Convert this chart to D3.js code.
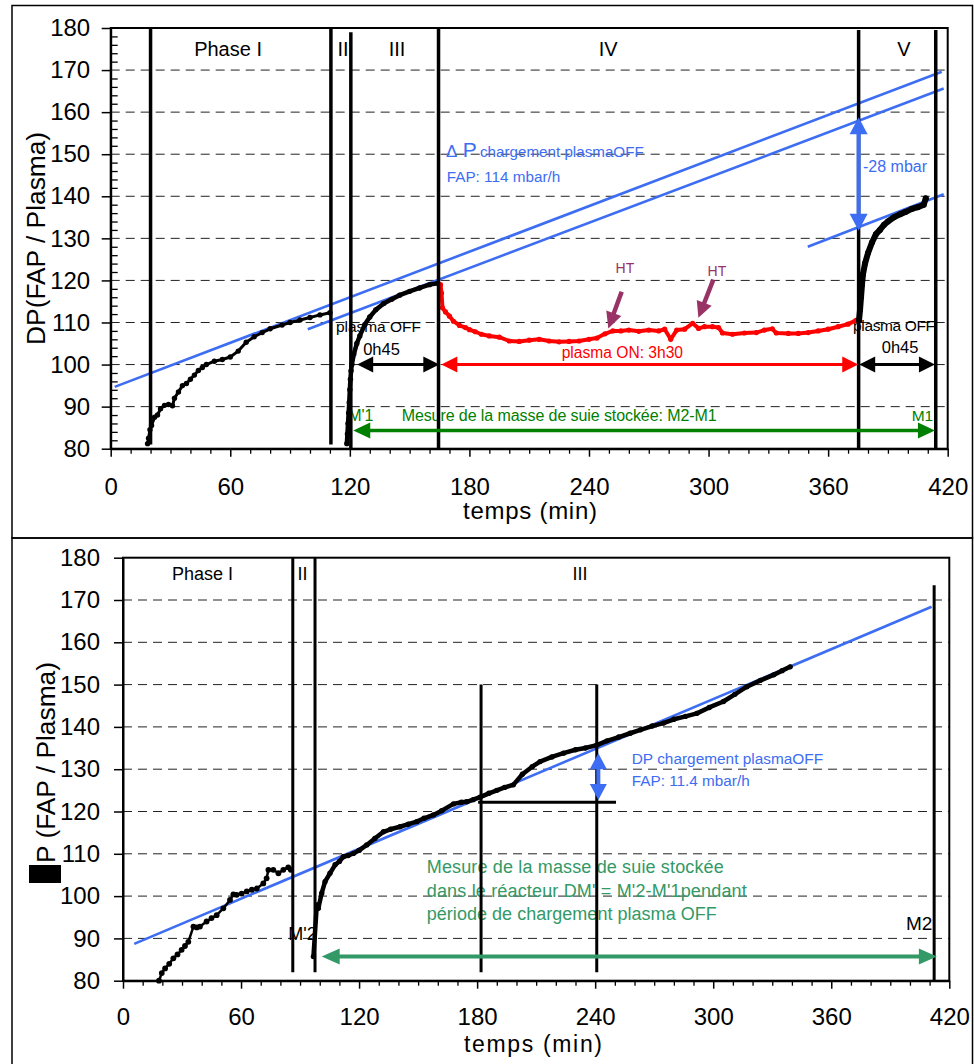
<!DOCTYPE html>
<html>
<head>
<meta charset="utf-8">
<script src="https://cdn.jsdelivr.net/npm/d3@7"></script>
<style>
  body { margin: 0; background: #fff; }
  text { font-family: "Liberation Sans", Arial, sans-serif; }
</style>
</head>
<body>
<svg id="chart" width="974" height="1064"></svg>
<script>
// ---------- shared axis settings ----------
const xTicks = [0, 60, 120, 180, 240, 300, 360, 420];
const yTicks = [80, 90, 100, 110, 120, 130, 140, 150, 160, 170, 180];
const gridValues = [90, 100, 110, 120, 130, 140, 150, 160, 170];

// ---------- upper chart: plasma cycle ----------
const topPhaseNames = ["Phase I", "II", "III", "IV", "V"];
const topPhaseLabelT = [58.9, 116.6, 143.7, 249.6, 398];

// phase boundaries (vertical point series)
const topBoundT  = [20, 110.5, 120.5, 164.5, 375.3, 414];
const topBoundLo = [81, 81, 80, 80, 80, 80];
const topBoundHi = [179.8, 179.8, 179, 179.8, 179.5, 179.5];

// phase I loading (plasma off)
const topLoadT = [18.5, 19, 19.7, 20.5, 22, 23.5, 25, 27, 29, 31, 32, 34, 36, 38, 40, 42, 44, 46, 48, 52, 56, 60, 64, 68, 72, 76, 80, 86, 90, 95, 100, 105, 110];
const topLoadV = [81.2, 82.5, 84.5, 85.5, 87.5, 88, 89.5, 90.3, 90.5, 90.2, 92, 93.5, 95, 95.5, 96.5, 97.5, 98.6, 99.3, 100, 100.8, 101.2, 101.8, 103.2, 105.3, 106.6, 107.6, 108.5, 109.4, 110, 110.6, 111.2, 111.8, 112.3];

// phase III (plasma off, 0h45)
const topOff1T = [118.5, 118.8, 119.1, 119.4, 119.7, 120, 120.3, 120.6, 121, 122, 123.5, 125, 127.5, 130, 133, 137, 141, 145, 150, 155, 160, 164];
const topOff1V = [81.2, 83.5, 86, 88.5, 91, 94, 96.5, 98.5, 100, 102.5, 105, 106.8, 109.5, 111.3, 113, 114.5, 115.5, 116.5, 117.4, 118.2, 119, 119.3];

// phase IV (plasma on, 3h30)
const topOnT = [165.5, 166, 166.5, 168, 170, 172, 175, 178, 180, 183, 186, 190, 195, 200, 205, 210, 215, 220, 225, 230, 235, 240, 244, 248, 252, 256, 260, 265, 270, 275, 278, 281, 284, 288, 292, 295, 298, 302, 305, 307, 312, 318, 324, 328, 332, 334, 340, 345, 350, 355, 360, 365, 370, 374];
const topOnV = [119, 117, 113.5, 112.5, 111.5, 110.3, 109.3, 108.8, 108.3, 107.8, 107.2, 106.8, 106.5, 105.6, 105.5, 105.8, 106, 105.6, 105.4, 105.5, 105.6, 106, 106.3, 107.3, 108, 108, 108.2, 107.9, 108.2, 108, 108.4, 106, 108.2, 108.4, 109.8, 108.6, 109, 109, 108.8, 107.5, 107.2, 107.5, 107.6, 108.2, 108.5, 107.5, 107.4, 107.4, 107.6, 108, 108.4, 109, 109.6, 110.5];

// phase V (plasma off, 0h45)
const topOff2T = [375.5, 376, 376.5, 377, 377.5, 378.5, 380, 382, 384, 386, 388, 390, 393, 396, 399, 402, 405, 408, 409];
const topOff2V = [110.5, 113, 116, 119, 121.5, 124, 126.5, 129, 131, 132, 133.2, 134, 135, 135.7, 136.3, 137, 137.4, 138, 139.5];

// linear loading trends (plasma off), end points
const topTrend1T = [2, 417];
const topTrend1V = [94.7, 169.6];
const topTrend2T = [98.9, 418];
const topTrend2V = [108.4, 165.6];
const topTrend3T = [349.8, 418];
const topTrend3V = [128, 140.5];

// ---------- lower chart: reference loading ----------
const botPhaseNames = ["Phase I", "II", "III"];
const botPhaseLabelT = [40.4, 91.2, 232.3];

const botBoundT  = [86.3, 97.6, 182, 240.8, 412.3];
const botBoundLo = [82, 82, 82, 82, 80];
const botBoundHi = [180, 180, 150, 150, 173.5];

const botLoadT = [18.3, 19.7, 21.4, 23.5, 25.6, 27.7, 29.8, 31.5, 33.2, 35.8, 37.5, 39.1, 42.5, 45, 47.6, 51, 54.4, 56.1, 57.8, 60.3, 62.9, 65.5, 68, 71.3, 73, 73.9, 76.4, 79, 81.5, 84, 85.3];
const botLoadV = [80, 81.8, 82.9, 84, 85.3, 86.2, 87.3, 88.2, 89.2, 92.8, 92.6, 92.8, 94, 94.8, 95.5, 97.1, 99.1, 100.4, 100.3, 100.6, 101.1, 101.5, 101.8, 103, 104.2, 106.2, 106.2, 105.4, 106.2, 106.8, 106.2];

const botOffT = [96.8, 98.5, 99.3, 101, 102.7, 105.2, 107.8, 110, 112, 114.5, 117.1, 120, 123.9, 128, 132.4, 136, 140.8, 145, 149.3, 153, 157.8, 162, 168, 172, 174.7, 178, 181.5, 186, 190, 194, 198.4, 203, 208, 212, 218, 223.9, 230, 235, 240.8, 246, 252, 257.8, 263, 269, 274.7, 280, 286, 291.7, 298, 305.2, 311, 317.1, 324, 330.7, 335, 339.1];
const botOffV = [85.7, 97.9, 97.1, 100.7, 103.4, 105.4, 107.4, 108.2, 109.3, 109.6, 110.1, 110.8, 112.1, 113.6, 115.2, 115.8, 116.4, 117, 117.6, 118.4, 119.2, 120.2, 121.8, 122.2, 122.3, 122.8, 123.4, 124.3, 125, 125.7, 126.3, 128.8, 130.6, 131.8, 132.9, 133.8, 134.6, 135, 135.7, 136.7, 137.6, 138.5, 139.3, 140.2, 140.9, 141.8, 142.5, 143.2, 144.6, 146, 147.7, 149.5, 151, 152.3, 153.3, 154.2];

const botTrendT = [5.7, 411];
const botTrendV = [88.7, 168.4];

// reference level for the 1 h increment
const botRefT = [180.5, 250.6];
const botRefV = [122.2, 122.2];

// ---------- colours ----------
const BLUE = "#3d6df2", RED = "#ff0000", GREEN1 = "#008000", GREEN2 = "#339966", PURPLE = "#993366";

const svg = d3.select("#chart");

// outer frames
svg.append("rect").attr("x", 12).attr("y", 5.5).attr("width", 960.5).attr("height", 532.5)
  .attr("fill", "none").attr("stroke", "#000").attr("stroke-width", 1.5);
svg.append("rect").attr("x", 12).attr("y", 538).attr("width", 960.5).attr("height", 540)
  .attr("fill", "none").attr("stroke", "#000").attr("stroke-width", 1.5);

function makePanel(xr, yr, minorY, labelPad, xPad) {
  const g = svg.append("g");
  const x = d3.scaleLinear().domain([0, 420]).range(xr);
  const y = d3.scaleLinear().domain([80, 180]).range(yr);

  g.append("g").selectAll("line").data(gridValues).join("line")
    .attr("x1", x(0)).attr("x2", x(420))
    .attr("y1", d => y(d)).attr("y2", d => y(d))
    .attr("stroke", "#222").attr("stroke-width", 1).attr("stroke-dasharray", "9,6");

  // minor x ticks every 10 min
  g.append("g").attr("transform", `translate(0,${y(80)})`)
    .call(d3.axisBottom(x).tickValues(d3.range(0, 421, 10).filter(d => d % 60 !== 0))
      .tickSize(5).tickSizeOuter(0).tickFormat(""))
    .call(a => a.select(".domain").remove())
    .selectAll("line").attr("stroke-width", 1.3);

  const xa = g.append("g").attr("transform", `translate(0,${y(80)})`)
    .call(d3.axisBottom(x).tickValues(xTicks).tickSize(8).tickSizeOuter(0).tickPadding(xPad));
  const ya = g.append("g").attr("transform", `translate(${x(0)},0)`)
    .call(d3.axisLeft(y).tickValues(yTicks).tickSize(9).tickSizeOuter(0).tickPadding(labelPad));
  [xa, ya].forEach(a => {
    a.select(".domain").attr("stroke-width", 2);
    a.selectAll(".tick line").attr("stroke-width", 1.5);
    a.selectAll("text").attr("font-size", 24).attr("fill", "#000")
      .attr("font-family", '"Liberation Sans", Arial, sans-serif');
  });

  if (minorY) {
    g.append("g").attr("transform", `translate(${x(0)},0)`)
      .call(d3.axisRight(y).tickValues(d3.range(82, 180, 2).filter(d => d % 10 !== 0))
        .tickSize(7).tickSizeOuter(0).tickFormat(""))
      .call(a => a.select(".domain").remove())
      .selectAll("line").attr("stroke-width", 1.3);
  }

  g.append("rect").attr("x", x(0)).attr("y", y(180))
    .attr("width", x(420) - x(0)).attr("height", y(80) - y(180))
    .attr("fill", "none").attr("stroke", "#000").attr("stroke-width", 2);

  return { g, x, y };
}

function label(p, t, v, str, size, color, anchor) {
  return p.g.append("text").attr("x", p.x(t)).attr("y", p.y(v))
    .attr("font-size", size).attr("fill", color || "#000")
    .attr("text-anchor", anchor || "start").text(str);
}

function series(p, T, V, color, width, r) {
  const pts = d3.zip(T, V);
  const line = d3.line().x(d => p.x(d[0])).y(d => p.y(d[1]));
  p.g.append("path").attr("d", line(pts)).attr("fill", "none")
    .attr("stroke", color).attr("stroke-width", width)
    .attr("stroke-linejoin", "round").attr("stroke-linecap", "round");
  p.g.append("g").selectAll("circle").data(pts).join("circle")
    .attr("cx", d => p.x(d[0])).attr("cy", d => p.y(d[1])).attr("r", r).attr("fill", color);
}

function trend(p, T, V) {
  const line = d3.line().x(d => p.x(d[0])).y(d => p.y(d[1]));
  p.g.append("path").attr("d", line(d3.zip(T, V))).attr("fill", "none")
    .attr("stroke", BLUE).attr("stroke-width", 2.6);
}

function bounds(p, T, lo, hi, w) {
  p.g.append("g").selectAll("line").data(d3.range(T.length)).join("line")
    .attr("x1", i => p.x(T[i])).attr("x2", i => p.x(T[i]))
    .attr("y1", i => p.y(lo[i])).attr("y2", i => p.y(hi[i]))
    .attr("stroke", "#000").attr("stroke-width", w);
}

// arrow with head at (x2,y2); optionally a head at (x1,y1) too
function arrow(g, x1, y1, x2, y2, color, width, len, half, both) {
  const a = Math.atan2(y2 - y1, x2 - x1);
  const ux = Math.cos(a), uy = Math.sin(a);
  const sx = both ? x1 + ux * len * 0.9 : x1, sy = both ? y1 + uy * len * 0.9 : y1;
  const ex = x2 - ux * len * 0.9, ey = y2 - uy * len * 0.9;
  g.append("line").attr("x1", sx).attr("y1", sy).attr("x2", ex).attr("y2", ey)
    .attr("stroke", color).attr("stroke-width", width);
  const head = (tx, ty, dx, dy) => {
    const bx = tx - dx * len, by = ty - dy * len;
    g.append("path").attr("fill", color)
      .attr("d", `M${tx},${ty}L${bx - dy * half},${by + dx * half}L${bx + dy * half},${by - dx * half}Z`);
  };
  head(x2, y2, ux, uy);
  if (both) head(x1, y1, -ux, -uy);
}

// ================= upper chart =================
const P1 = makePanel([110.7, 947.7], [448.7, 28], true, 11.5, 21);

topPhaseNames.forEach((n, i) => {
  P1.g.append("text").attr("x", P1.x(topPhaseLabelT[i])).attr("y", P1.y(180) + 28)
    .attr("text-anchor", "middle").attr("font-size", 20).text(n);
});

// annotations drawn beneath the data
const dp = P1.g.append("text").attr("y", P1.y(149.4)).attr("fill", BLUE);
dp.append("tspan").attr("x", P1.x(168.2)).attr("font-size", 17).text("Δ");
dp.append("tspan").attr("x", P1.x(176.6)).attr("font-size", 21).text("P");
dp.append("tspan").attr("x", P1.x(185.3)).attr("font-size", 15.2).text("chargement plasmaOFF");
label(P1, 168.6, 143.5, "FAP: 114 mbar/h", 15.3, BLUE);
label(P1, 377.5, 145.7, "-28 mbar", 16, BLUE);
label(P1, 258, 121.7, "HT", 14, PURPLE, "middle");
label(P1, 304.2, 121.1, "HT", 14, PURPLE, "middle");
label(P1, 113, 107.7, "plasma OFF", 15.5).attr("textLength", 85);
label(P1, 126.7, 102.3, "0h45", 16.5);
label(P1, 226.3, 101.6, "plasma ON: 3h30", 15.6, RED);
label(P1, 372.5, 107.9, "plasma OFF", 15.5).attr("textLength", 82);
label(P1, 386.9, 102.7, "0h45", 16.5);
label(P1, 119.2, 86.7, "M'1", 16, GREEN1);
label(P1, 146, 86.7, "Mesure de la masse de suie stockée: M2-M1", 16, GREEN1).attr("textLength", 315);
label(P1, 401.9, 86.7, "M1", 15.5, GREEN1);

trend(P1, topTrend1T, topTrend1V);
trend(P1, topTrend2T, topTrend2V);
trend(P1, topTrend3T, topTrend3V);

series(P1, topLoadT, topLoadV, "#000", 3, 2.7);
series(P1, topOff1T, topOff1V, "#000", 4.5, 2.7);
series(P1, topOnT, topOnV, RED, 4, 2.6);
series(P1, topOff2T, topOff2V, "#000", 6, 3);

bounds(P1, topBoundT, topBoundLo, topBoundHi, 3.5);

// duration arrows
arrow(P1.g, P1.x(123.7), P1.y(100), P1.x(164.9), P1.y(100), "#000", 3, 16, 8, true);
arrow(P1.g, P1.x(165.9), P1.y(100), P1.x(375.1), P1.y(100), RED, 3, 16, 8, true);
arrow(P1.g, P1.x(375.6), P1.y(100), P1.x(413.6), P1.y(100), "#000", 3, 16, 8, true);
arrow(P1.g, P1.x(121.7), P1.y(84.3), P1.x(413.6), P1.y(84.3), GREEN1, 3.5, 17, 8, true);
// pressure offset between the two loading trends
arrow(P1.g, P1.x(375.3), P1.y(131.8), P1.x(375.3), P1.y(158.8), BLUE, 4, 17, 9, true);
// high-voltage events
arrow(P1.g, P1.x(256.4), P1.y(117.3), P1.x(249.7), P1.y(108.6), PURPLE, 4.5, 16, 8, false);
arrow(P1.g, P1.x(302.4), P1.y(120.2), P1.x(294.9), P1.y(111.1), PURPLE, 4.5, 16, 8, false);

// axis titles
svg.append("text").attr("transform", "translate(45,238.4) rotate(-90)")
  .attr("text-anchor", "middle").attr("font-size", 26)
  .attr("textLength", 213).attr("lengthAdjust", "spacingAndGlyphs").text("DP(FAP / Plasma)");
svg.append("text").attr("x", 530).attr("y", 519).attr("text-anchor", "middle")
  .attr("font-size", 24).attr("textLength", 134).text("temps (min)");

// ================= lower chart =================
const P2 = makePanel([123, 949.3], [980.7, 557.7], false, 14, 19);

botPhaseNames.forEach((n, i) => {
  P2.g.append("text").attr("x", P2.x(botPhaseLabelT[i])).attr("y", P2.y(180) + 22)
    .attr("text-anchor", "middle").attr("font-size", 18).text(n);
});

label(P2, 258.6, 131.3, "DP chargement plasmaOFF", 15.4, BLUE);
label(P2, 258.6, 126.1, "FAP: 11.4 mbar/h", 15.3, BLUE);
label(P2, 154.4, 105.5, "Mesure de la masse de suie stockée", 18, GREEN2).attr("textLength", 297);
label(P2, 154.4, 99.9, "dans le réacteur DM' = M'2-M'1pendant", 18, GREEN2).attr("textLength", 320);
label(P2, 154.4, 94.3, "période de chargement plasma OFF", 18, GREEN2).attr("textLength", 290);
label(P2, 84, 89.7, "M'2", 18);
label(P2, 398, 92.1, "M2", 19);

trend(P2, botTrendT, botTrendV);
series(P2, botLoadT, botLoadV, "#000", 2.5, 2.9);
series(P2, botOffT, botOffV, "#000", 4.5, 2.7);

bounds(P2, botBoundT, botBoundLo, botBoundHi, 3);
P2.g.append("path").attr("d", d3.line().x(d => P2.x(d[0])).y(d => P2.y(d[1]))(d3.zip(botRefT, botRefV)))
  .attr("stroke", "#000").attr("stroke-width", 3);

arrow(P2.g, P2.x(241.6), P2.y(122.7), P2.x(241.6), P2.y(133.8), BLUE, 4, 16, 8.5, true);
arrow(P2.g, P2.x(101), P2.y(85.7), P2.x(413.7), P2.y(85.7), GREEN2, 4, 18, 8, true);

// y title: the Δ glyph renders as a filled block in this panel
svg.append("rect").attr("x", 29).attr("y", 865).attr("width", 32).attr("height", 18).attr("fill", "#000");
svg.append("text").attr("transform", "translate(55,863) rotate(-90)")
  .attr("font-size", 26).attr("textLength", 201).attr("lengthAdjust", "spacingAndGlyphs")
  .text("P (FAP / Plasma)");
svg.append("text").attr("x", 533).attr("y", 1052).attr("text-anchor", "middle")
  .attr("font-size", 23).attr("textLength", 138).text("temps (min)");
</script>
</body>
</html>
